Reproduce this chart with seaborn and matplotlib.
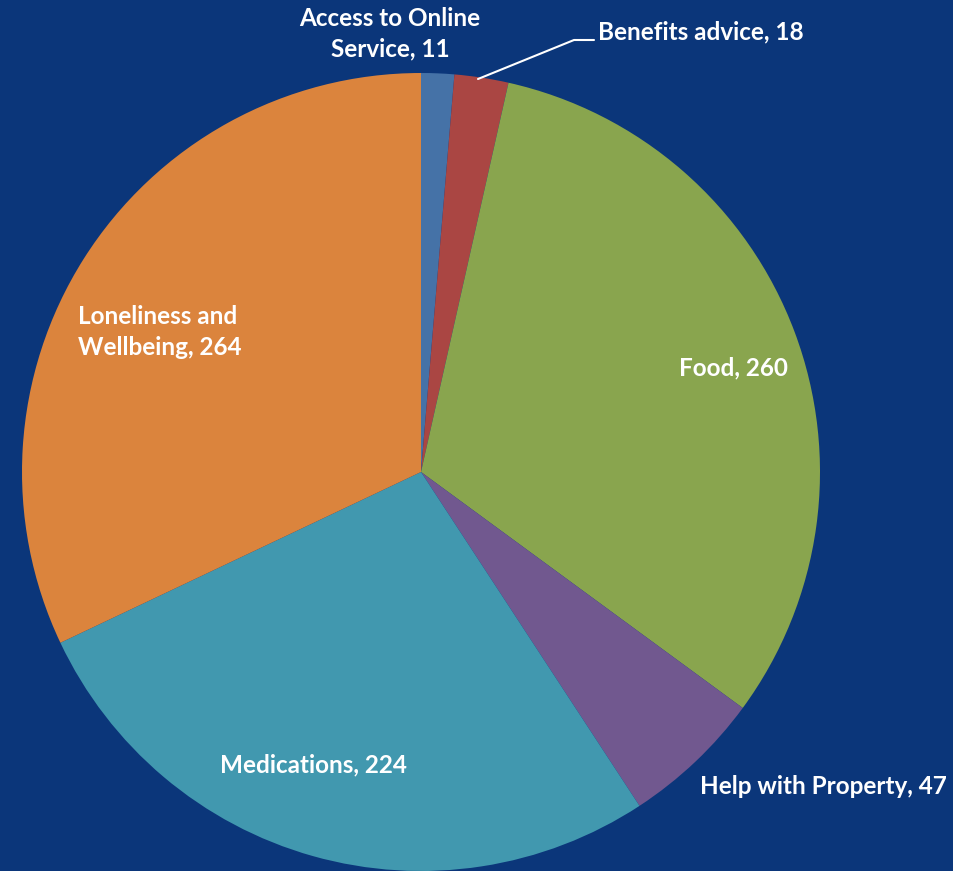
import matplotlib
matplotlib.use("Agg")
import matplotlib.pyplot as plt
import seaborn as sns

categories = ["Access to Online\nService", "Benefits advice", "Food",
              "Help with Property", "Medications", "Loneliness and\nWellbeing"]
counts = [11, 18, 260, 47, 224, 264]
colors = ["#4572A7", "#AA4643", "#89A54E", "#71588F", "#4198AF", "#DB843D"]
background = "#0B367A"

sns.set_theme(style="white")
plt.rcParams["font.family"] = ["Lato", "DejaVu Sans"]

W, H = 954, 871
fig = plt.figure(figsize=(W / 100, H / 100), dpi=100, facecolor=background)
ax = fig.add_axes([0, 0, 1, 1])
ax.set_facecolor(background)

cx, cy, r = 421, H - 472, 399
ax.pie(counts, colors=colors, startangle=90, counterclock=False,
       center=(cx, cy), radius=r, frame=True,
       wedgeprops=dict(linewidth=0))
ax.set_xlim(0, W)
ax.set_ylim(0, H)
ax.set_aspect("equal")
ax.axis("off")

# label anchor points (pixels from top-left) and alignment
label_pos = [(390, 34, "center"), (598, 32, "left"), (733, 368, "center"),
             (700, 786, "left"), (313, 765, "center"), (78, 332, "left")]
for name, val, (x, y, ha) in zip(categories, counts, label_pos):
    ax.text(x, H - y, f"{name}, {val}", ha=ha, va="center", color="white",
            fontsize=17.5, fontweight="bold", linespacing=1.4,
            multialignment="center" if ha == "center" else "left")

# leader line for the small "Benefits advice" slice
ax.plot([478, 574, 594], [H - 79, H - 40, H - 40], color="white", lw=1.5)

fig.savefig("out.png", dpi=100, facecolor=background)
